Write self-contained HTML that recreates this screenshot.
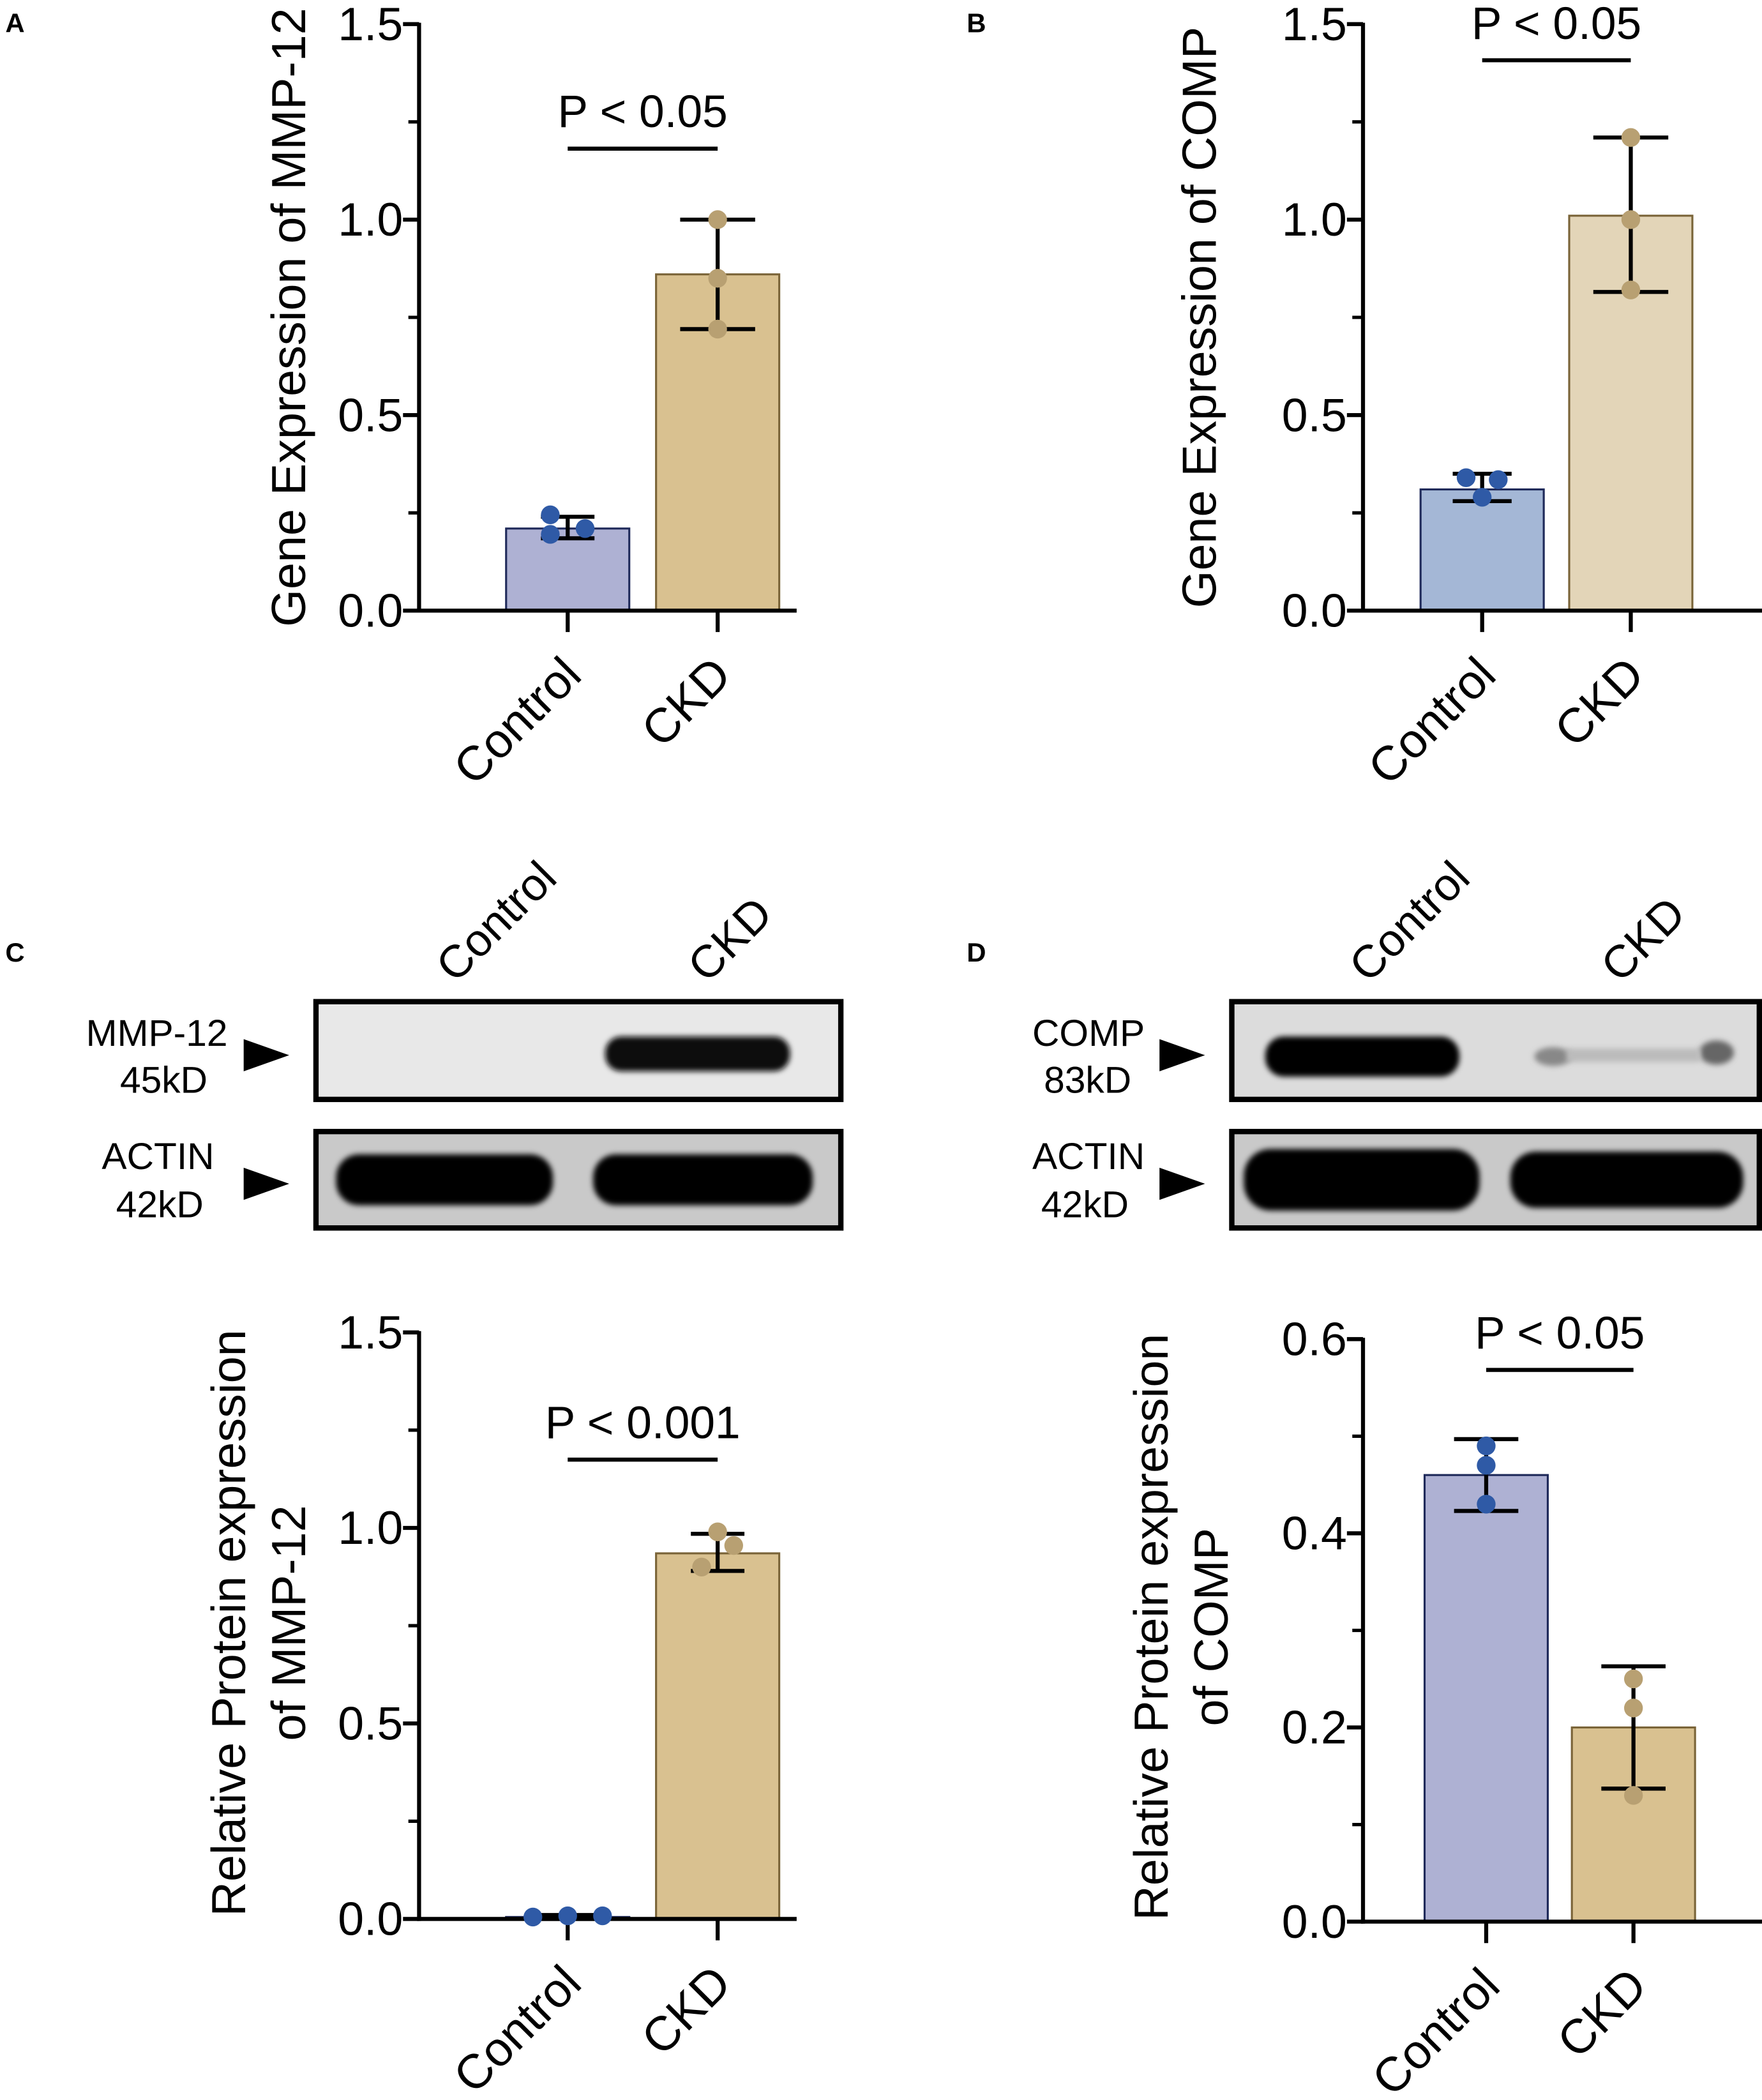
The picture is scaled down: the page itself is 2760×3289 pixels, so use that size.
<!DOCTYPE html>
<html><head><meta charset="utf-8">
<style>
html,body{margin:0;padding:0;background:#fff;}
svg{display:block;font-family:"Liberation Sans",Arial,sans-serif;}
</style></head>
<body>
<svg id="fig" width="2760" height="3289" viewBox="0 0 1316 1568.2" preserveAspectRatio="none" xmlns="http://www.w3.org/2000/svg">
<defs>
<filter id="blur2" x="-20%" y="-50%" width="140%" height="200%"><feGaussianBlur stdDeviation="2"/></filter>
</defs>
<g><text x="4" y="24" font-size="20" font-weight="bold">A</text></g>
<g><text x="722" y="24" font-size="20" font-weight="bold">B</text></g>
<g><text x="4" y="718" font-size="20" font-weight="bold">C</text></g>
<g><text x="722" y="718" font-size="20" font-weight="bold">D</text></g>

<g>
  <text transform="translate(340,735) rotate(-45)" font-size="34">Control</text>
  <text transform="translate(528,735) rotate(-45)" font-size="34">CKD</text>
  <g>
    <rect x="236" y="748" width="392" height="73" fill="#e8e8e8" stroke="#000" stroke-width="4"/>
    <rect x="452" y="774" width="138" height="26" rx="12" fill="#0a0a0a" filter="url(#blur2)"/>
  </g>
  <g>
    <rect x="236" y="845" width="392" height="72" fill="#c9c9c9" stroke="#000" stroke-width="4"/>
    <rect x="251" y="862" width="162" height="38" rx="17" fill="#050505" filter="url(#blur2)"/>
    <rect x="443" y="862" width="164" height="38" rx="17" fill="#050505" filter="url(#blur2)"/>
  </g>
  <text x="170" y="781" font-size="28" text-anchor="end">MMP-12</text>
  <text x="155" y="816" font-size="28" text-anchor="end">45kD</text>
  <text x="160" y="873" font-size="28" text-anchor="end">ACTIN</text>
  <text x="152" y="909" font-size="28" text-anchor="end">42kD</text>
  <polygon points="182,776 216,788 182,800" fill="#000"/>
  <polygon points="182,872 216,884 182,896" fill="#000"/>
</g>

<g>
  <text transform="translate(1022,735) rotate(-45)" font-size="34">Control</text>
  <text transform="translate(1210,735) rotate(-45)" font-size="34">CKD</text>
  <g>
    <rect x="920" y="748" width="394" height="73" fill="#dcdcdc" stroke="#000" stroke-width="4"/>
    <rect x="945" y="774" width="145" height="30" rx="14" fill="#050505" filter="url(#blur2)"/>
    <ellipse cx="1160" cy="789" rx="14" ry="7" fill="#888" filter="url(#blur2)"/>
    <ellipse cx="1282" cy="786" rx="13" ry="9" fill="#666" filter="url(#blur2)"/>
    <rect x="1170" y="783" width="100" height="10" fill="#bbb" filter="url(#blur2)"/>
  </g>
  <g>
    <rect x="920" y="845" width="394" height="72" fill="#c9c9c9" stroke="#000" stroke-width="4"/>
    <rect x="929" y="858" width="176" height="46" rx="20" fill="#050505" filter="url(#blur2)"/>
    <rect x="1128" y="860" width="174" height="42" rx="19" fill="#050505" filter="url(#blur2)"/>
  </g>
  <text x="855" y="781" font-size="28" text-anchor="end">COMP</text>
  <text x="845" y="816" font-size="28" text-anchor="end">83kD</text>
  <text x="855" y="873" font-size="28" text-anchor="end">ACTIN</text>
  <text x="843" y="909" font-size="28" text-anchor="end">42kD</text>
  <polygon points="866,776 900,788 866,800" fill="#000"/>
  <polygon points="866,872 900,884 866,896" fill="#000"/>
</g>
</svg>
<script>
const categories = ["Control", "CKD"];
const aMeans = [0.21, 0.86];
const aErrLo = [0.185, 0.72];
const aErrHi = [0.24, 1.0];
const aCtrlPts = [0.245, 0.21, 0.195];
const aCkdPts = [1.0, 0.85, 0.72];
const bMeans = [0.31, 1.01];
const bErrLo = [0.28, 0.815];
const bErrHi = [0.35, 1.21];
const bCtrlPts = [0.34, 0.335, 0.29];
const bCkdPts = [1.21, 1.0, 0.82];
const cMeans = [0.005, 0.935];
const cErrLo = [0.0, 0.89];
const cErrHi = [0.01, 0.985];
const cCtrlPts = [0.005, 0.008, 0.008];
const cCkdPts = [0.99, 0.955, 0.9];
const dMeans = [0.46, 0.20];
const dErrLo = [0.423, 0.137];
const dErrHi = [0.497, 0.263];
const dCtrlPts = [0.49, 0.47, 0.43];
const dCkdPts = [0.25, 0.22, 0.13];
const ticks15 = [0, 0.5, 1.0, 1.5];
const ticks15Labels = ["0.0", "0.5", "1.0", "1.5"];
const ticks06 = [0, 0.2, 0.4, 0.6];
const ticks06Labels = ["0.0", "0.2", "0.4", "0.6"];

const NS = "http://www.w3.org/2000/svg";
const svg = document.getElementById("fig");
function mk(tag, attrs, parent) {
  const e = document.createElementNS(NS, tag);
  for (const k in attrs) e.setAttribute(k, attrs[k]);
  (parent || svg).appendChild(e);
  return e;
}

function chart(cfg) {
  const g = mk("g", {});
  
  
  const y = v => cfg.y0 - (v / cfg.max) * (cfg.y0 - cfg.yTop);
  const xc = [cfg.ax + cfg.c1, cfg.ax + cfg.c2];
  for (let i = 0; i < 2; i++) {
    const r = mk("rect", {x: xc[i] - cfg.bw / 2, y: y(cfg.means[i]), width: cfg.bw, height: Math.max(0.5, cfg.y0 - y(cfg.means[i])), fill: cfg.fills[i], stroke: cfg.strokes[i], "stroke-width": 1.5}, g);
    
    
  }
  const ya = mk("line", {x1: cfg.ax, y1: cfg.yTop - 1, x2: cfg.ax, y2: cfg.y0 + 1.5, stroke: "#000", "stroke-width": 3}, g);
  
  
  const xa = mk("line", {x1: cfg.ax - 1.5, y1: cfg.y0, x2: cfg.xEnd, y2: cfg.y0, stroke: "#000", "stroke-width": 3}, g);
  
  
  cfg.ticks.forEach((t, i) => {
    mk("line", {x1: cfg.ax - 12, y1: y(t), x2: cfg.ax, y2: y(t), stroke: "#000", "stroke-width": 3}, g);
    const tl = mk("text", {x: cfg.ax - 12, y: y(t) + 12, "font-size": 35, "text-anchor": "end"}, g);
    tl.textContent = cfg.tickLabels[i];
    
    
    if (i < cfg.ticks.length - 1) {
      const m = (t + cfg.ticks[i + 1]) / 2;
      mk("line", {x1: cfg.ax - 8, y1: y(m), x2: cfg.ax, y2: y(m), stroke: "#000", "stroke-width": 2.5}, g);
    }
  });
  for (let i = 0; i < 2; i++) {
    mk("line", {x1: xc[i], y1: cfg.y0, x2: xc[i], y2: cfg.y0 + 16, stroke: "#000", "stroke-width": 3}, g);
    const tl = mk("text", {transform: `translate(${xc[i] + 12},${cfg.y0 + 50}) rotate(-45)`, "font-size": 36, "text-anchor": "end"}, g);
    tl.textContent = categories[i];
    
    
  }
  const lo = cfg.errLo, hi = cfg.errHi;
  for (let i = 0; i < 2; i++) {
    const cw = cfg.capW[i];
    const eg = mk("g", {stroke: "#000", "stroke-width": 3}, g);
    
    
    mk("line", {x1: xc[i], y1: y(lo[i]), x2: xc[i], y2: y(hi[i])}, eg);
    mk("line", {x1: xc[i] - cw, y1: y(lo[i]), x2: xc[i] + cw, y2: y(lo[i])}, eg);
    mk("line", {x1: xc[i] - cw, y1: y(hi[i]), x2: xc[i] + cw, y2: y(hi[i])}, eg);
  }
  const pts = [cfg.ctrlPts, cfg.ckdPts];
  for (let i = 0; i < 2; i++) {
    pts[i].forEach((v, j) => {
      const c = mk("circle", {cx: xc[i] + cfg.offs[i][j], cy: y(v), r: 7, fill: cfg.ptCols[i]}, g);
      
      
    });
  }
  const sl = mk("line", {x1: xc[0], y1: cfg.sigY, x2: xc[1], y2: cfg.sigY, stroke: "#000", "stroke-width": 3}, g);
  
  
  const st = mk("text", {x: (xc[0] + xc[1]) / 2, y: cfg.sigY - 16, "font-size": 34, "text-anchor": "middle"}, g);
  st.textContent = cfg.sigText;
  
  
  cfg.title.forEach((line, k) => {
    const t = mk("text", {transform: `translate(${cfg.titleX + k * 45},${cfg.titleY}) rotate(-90)`, "font-size": 36, "text-anchor": "middle"}, g);
    t.textContent = line;
    
    
  });
}

const blue = "#2f5aa6", tan = "#b8a072";
chart({name: "chart-a", ax: 313, y0: 456, yTop: 18, max: 1.5, xEnd: 595, c1: 111, c2: 223, bw: 92,
  means: aMeans, errLo: aErrLo, errHi: aErrHi, ctrlPts: aCtrlPts, ckdPts: aCkdPts,
  ticks: ticks15, tickLabels: ticks15Labels, fills: ["#aeb1d3", "#d9c190"], strokes: ["#1f2a5a", "#7a6438"],
  capW: [20, 28], offs: [[-13, 13, -13], [0, 0, 0]], ptCols: [blue, tan],
  sigY: 111, sigText: "P < 0.05", title: ["Gene Expression of MMP-12"], titleX: 228, titleY: 237});
chart({name: "chart-b", ax: 1018, y0: 456, yTop: 18, max: 1.5, xEnd: 1316, c1: 89, c2: 200, bw: 92,
  means: bMeans, errLo: bErrLo, errHi: bErrHi, ctrlPts: bCtrlPts, ckdPts: bCkdPts,
  ticks: ticks15, tickLabels: ticks15Labels, fills: ["#a4b7d6", "#e3d5b8"], strokes: ["#1f2a5a", "#7a6438"],
  capW: [22, 28], offs: [[-12, 12, 0], [0, 0, 0]], ptCols: [blue, tan],
  sigY: 45, sigText: "P < 0.05", title: ["Gene Expression of COMP"], titleX: 908, titleY: 237});
chart({name: "chart-c", ax: 313, y0: 1433, yTop: 995, max: 1.5, xEnd: 595, c1: 111, c2: 223, bw: 92,
  means: cMeans, errLo: cErrLo, errHi: cErrHi, ctrlPts: cCtrlPts, ckdPts: cCkdPts,
  ticks: ticks15, tickLabels: ticks15Labels, fills: ["#aeb1d3", "#d9c190"], strokes: ["#1f2a5a", "#7a6438"],
  capW: [20, 20], offs: [[-26, 0, 26], [0, 12, -12]], ptCols: [blue, tan],
  sigY: 1090, sigText: "P < 0.001", title: ["Relative Protein expression", "of MMP-12"], titleX: 183, titleY: 1212});
chart({name: "chart-d", ax: 1018, y0: 1435, yTop: 1000, max: 0.6, xEnd: 1316, c1: 92, c2: 202, bw: 92,
  means: dMeans, errLo: dErrLo, errHi: dErrHi, ctrlPts: dCtrlPts, ckdPts: dCkdPts,
  ticks: ticks06, tickLabels: ticks06Labels, fills: ["#aeb1d3", "#d9c190"], strokes: ["#1f2a5a", "#7a6438"],
  capW: [24, 24], offs: [[0, 0, 0], [0, 0, 0]], ptCols: [blue, tan],
  sigY: 1023, sigText: "P < 0.05", title: ["Relative Protein expression", "of COMP"], titleX: 872, titleY: 1215});
</script>
</body></html>
